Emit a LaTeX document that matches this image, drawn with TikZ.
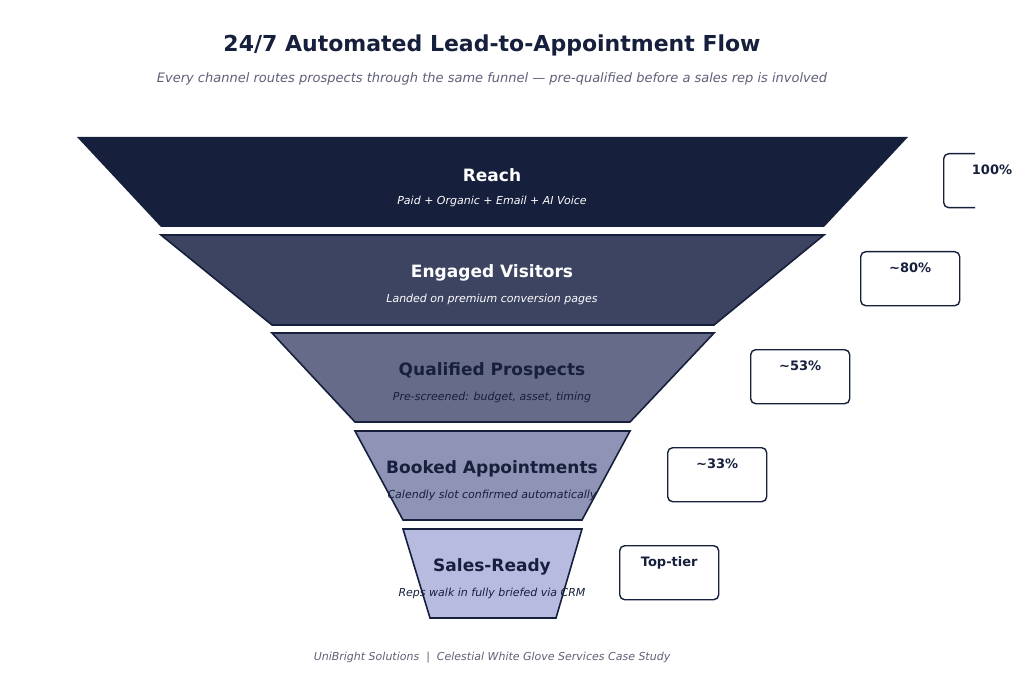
\documentclass[tikz,border=0pt]{standalone}
\usepackage{fontspec}
\setmainfont{DejaVu Sans}
\definecolor{navy}{HTML}{161F3B}
\definecolor{stagetwo}{HTML}{3D4461}
\definecolor{stagethree}{HTML}{666B8A}
\definecolor{stagefour}{HTML}{8F93B5}
\definecolor{stagefive}{HTML}{B8BBE0}
\definecolor{greytext}{HTML}{5F6078}
\tikzset{
	stage/.style={draw=navy,line width=1.6pt,line join=miter},
	head/.style={font=\bfseries\fontsize{17}{19}\selectfont},
	sub/.style={font=\itshape\fontsize{11}{13}\selectfont},
	pct/.style={draw=navy,line width=1.4pt,rounded corners=5pt,minimum width=99pt,minimum height=54pt,anchor=north west},
	pctlabel/.style={font=\bfseries\fontsize{13}{15}\selectfont,text=navy,anchor=north}
}
\begin{document}
\begin{tikzpicture}[x=1pt,y=-1pt]
	\useasboundingbox (0,0) rectangle (1024,692);
	
	\node[font=\bfseries\fontsize{22}{26}\selectfont,text=navy] (title) at (492,45) {24/7 Automated Lead-to-Appointment Flow};
	\node[font=\itshape\fontsize{13}{15}\selectfont,text=greytext] (subtitle) at (492,79) {Every channel routes prospects through the same funnel — pre-qualified before a sales rep is involved};
	
	% funnel stages
	\fill[navy] (77,137) -- (908,137) -- (824,227) -- (161,227) -- cycle;
	\draw[stage,fill=stagetwo] (161,235) -- (824,235) -- (714,325) -- (272,325) -- cycle;
	\draw[stage,fill=stagethree] (272,333) -- (714,333) -- (630,422) -- (355,422) -- cycle;
	\draw[stage,fill=stagefour] (355,431) -- (630,431) -- (582,520) -- (403,520) -- cycle;
	\draw[stage,fill=stagefive] (403,529) -- (582,529) -- (556,618) -- (430,618) -- cycle;
	
	\node[head,text=white] (reach) at (492,175) {Reach};
	\node[sub,text=white] (reachsub) at (492,201) {Paid + Organic + Email + AI Voice};
	\node[head,text=white] (engaged) at (492,273) {Engaged Visitors};
	\node[sub,text=white] (engagedsub) at (492,299) {Landed on premium conversion pages};
	\node[head,text=navy] (qualified) at (492,371) {Qualified Prospects};
	\node[sub,text=navy] (qualifiedsub) at (492,397) {Pre-screened: budget, asset, timing};
	\node[head,text=navy] (booked) at (492,469) {Booked Appointments};
	\node[sub,text=navy] (bookedsub) at (492,495) {Calendly slot confirmed automatically};
	\node[head,text=navy] (ready) at (492,567) {Sales-Ready};
	\node[sub,text=navy] (readysub) at (492,593) {Reps walk in fully briefed via CRM};
	
	% percentage boxes
	\begin{scope}
		\clip (0,0) rectangle (975,692);
		\node[pct] (pctreach) at (943,153) {};
	\end{scope}
	\node[pctlabel] (lblreach) at (992,161) {100\%};
	\node[pct] (pctengaged) at (860,251) {};
	\node[pctlabel] at (pctengaged.north) [yshift=-8pt] {\textasciitilde80\%};
	\node[pct] (pctqualified) at (750,349) {};
	\node[pctlabel] at (pctqualified.north) [yshift=-8pt] {\textasciitilde53\%};
	\node[pct] (pctbooked) at (667,447) {};
	\node[pctlabel] at (pctbooked.north) [yshift=-8pt] {\textasciitilde33\%};
	\node[pct] (pctready) at (619,545) {};
	\node[pctlabel] at (pctready.north) [yshift=-8pt] {Top-tier};
	
	\node[font=\itshape\fontsize{11}{13}\selectfont,text=greytext] (footer) at (492,658) {UniBright Solutions \ | \ Celestial White Glove Services Case Study};
\end{tikzpicture}
\end{document}
